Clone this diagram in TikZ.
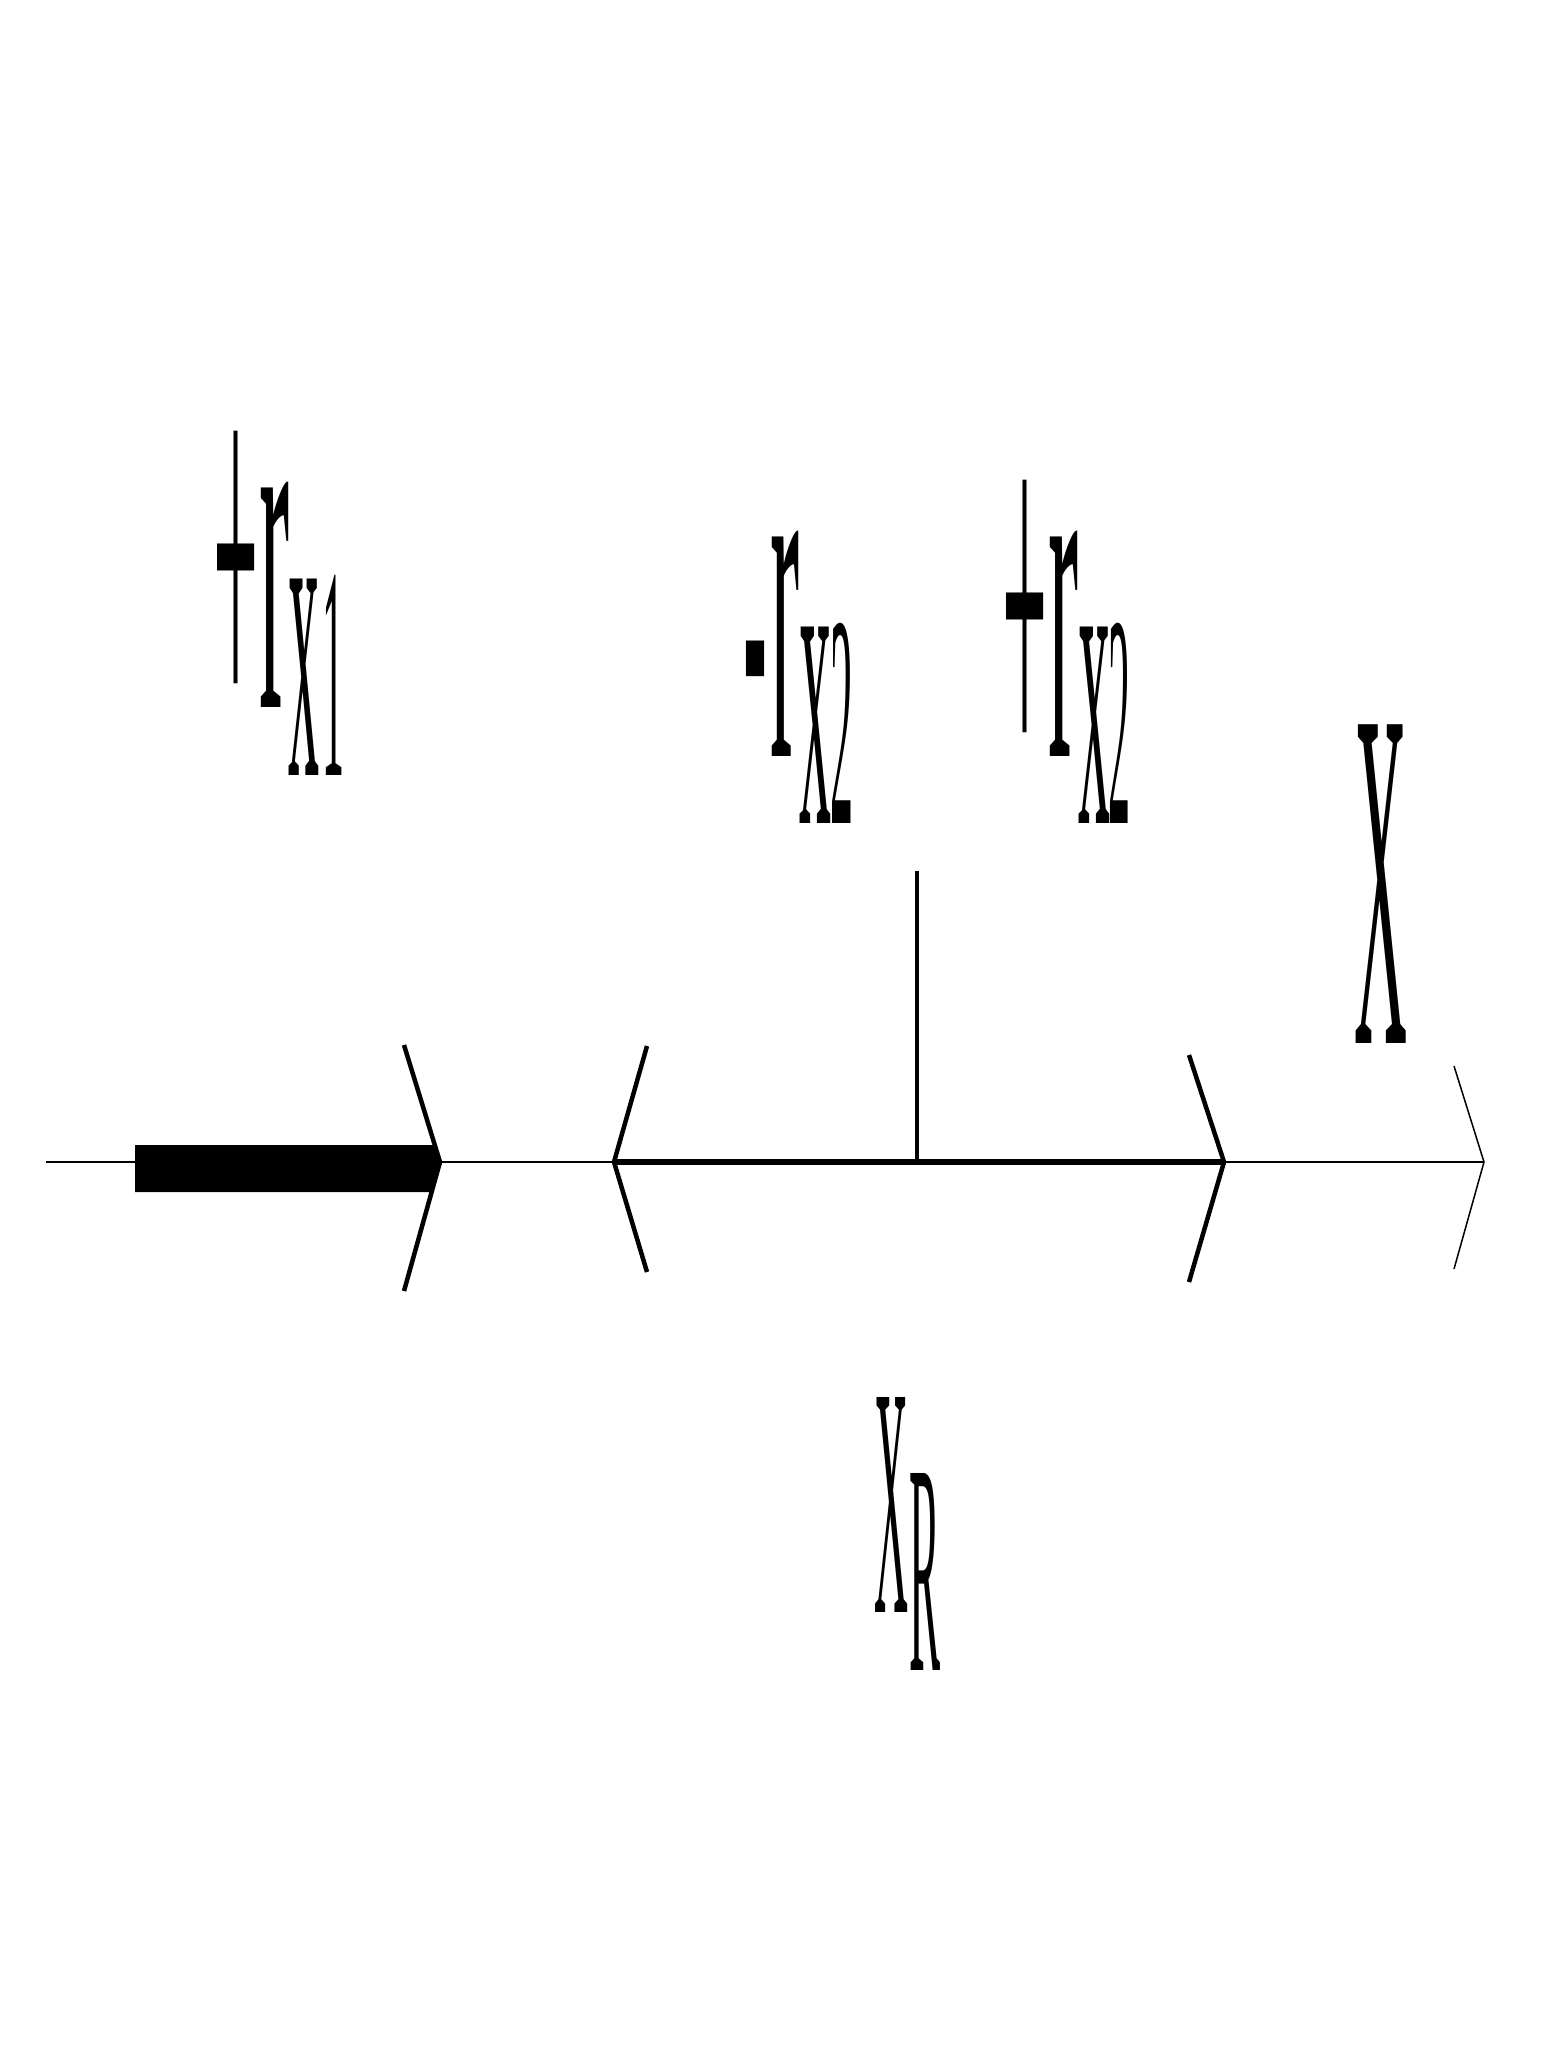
\documentclass[tikz,border=0pt]{standalone}
\usepackage{fontspec}
\setmainfont{Liberation Serif}
\usepackage{graphicx}
\newcommand\gly[3]{\resizebox*{#1pt}{#2pt}{#3}}
\begin{document}
\begin{tikzpicture}[x=1pt,y=-1pt,
  glyph/.style={anchor=south west, inner sep=0pt, outer sep=0pt},
  axisline/.style={line width=2pt},
  chev/.style={line width=4.5pt, line join=miter},
  thinchev/.style={line width=1.5pt, line join=miter},
  bar/.style={line width=5.5pt},
  tick/.style={line width=4.5pt}]
\useasboundingbox (0,0) rectangle (1564,2048);

% labels
\node[glyph] (plusA) at (213,737) {\gly{45}{305}{+}};
\node[glyph] (rA)    at (259,707) {\gly{30}{225}{r}};
\node[glyph] (xA)    at (288,775) {\gly{31}{196}{x}};
\node[glyph] (oneA)  at (322,775) {\gly{22}{200}{1}};

\node[glyph] (minusB) at (744,896) {\gly{22}{255}{−}};
\node[glyph] (rB)     at (770,756) {\gly{29}{225}{r}};
\node[glyph] (xB)     at (799,823) {\gly{32}{196}{x}};
\node[glyph] (twoB)   at (830,823) {\gly{23}{200}{2}};

\node[glyph] (plusC) at (1002,786) {\gly{45}{305}{+}};
\node[glyph] (rC)    at (1048,756) {\gly{30}{225}{r}};
\node[glyph] (xC)    at (1078,823) {\gly{32}{196}{x}};
\node[glyph] (twoC)  at (1108,823) {\gly{22}{200}{2}};

\node[glyph] (XX) at (1354,1043) {\gly{53}{318}{X}};

\node[glyph] (XD) at (874,1612) {\gly{34}{215}{X}};
\node[glyph] (RD) at (909,1670) {\gly{31}{197}{R}};

% axis
\coordinate (a0) at (46,1162);
\coordinate (a1) at (1484,1162);
\draw[axisline] (a0) -- (a1);

% thick arrow body
\fill (135,1145) -- (433,1145) -- (440,1162) -- (433,1192) -- (135,1192) -- cycle;

% chevrons
\coordinate (c1) at (440,1162);
\draw[chev] (404,1045) -- (c1) -- (404,1291);
\coordinate (c2) at (614,1162);
\draw[chev] (647,1046) -- (c2) -- (647,1272);
\coordinate (c3) at (1224,1162);
\draw[chev] (1189,1055) -- (c3) -- (1189,1282);
\draw[thinchev] (1454,1066) -- (a1) -- (1454,1269);

% thick segment and tick
\draw[bar] (c2) -- (c3);
\coordinate (t0) at (917,871);
\coordinate (t1) at (917,1162);
\draw[tick] (t0) -- (t1);
\end{tikzpicture}
\end{document}
